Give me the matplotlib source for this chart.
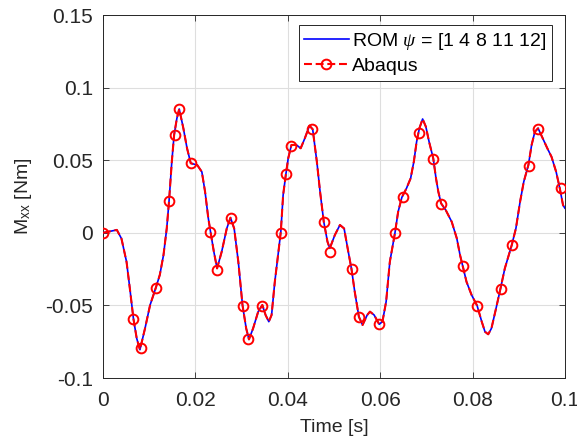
import matplotlib
matplotlib.use("Agg")
import matplotlib.pyplot as plt
from matplotlib.lines import Line2D

plt.rcParams["font.family"] = ["Liberation Sans", "DejaVu Sans"]
plt.rcParams["mathtext.fontset"] = "custom"
plt.rcParams["mathtext.it"] = "Liberation Serif:italic"
plt.rcParams["mathtext.rm"] = "Liberation Sans"

# ROM / Abaqus response (dense trace)
t_rom = [0.0, 0.0030, 0.0040, 0.0051, 0.0058, 0.0066, 0.0073, 0.0080, 0.0091,
         0.0102, 0.0114, 0.0123, 0.0131, 0.0138, 0.0143, 0.0149, 0.0154, 0.0160,
         0.0165, 0.0174, 0.0182, 0.0190, 0.0204, 0.0214, 0.0221, 0.0228, 0.0233,
         0.0240, 0.0247, 0.0257, 0.0268, 0.0276, 0.0284, 0.0293, 0.0302, 0.0310,
         0.0316, 0.0325, 0.0336, 0.0345, 0.0352, 0.0359, 0.0365, 0.0372, 0.0379,
         0.0385, 0.0390, 0.0396, 0.0401, 0.0408, 0.0419, 0.0428, 0.0437, 0.0447,
         0.0454, 0.0463, 0.0470, 0.0478, 0.0486, 0.0491, 0.0502, 0.0513, 0.0522,
         0.0531, 0.0538, 0.0545, 0.0554, 0.0562, 0.0572, 0.0578, 0.0587, 0.0598,
         0.0605, 0.0613, 0.0621, 0.0632, 0.0639, 0.0647, 0.0657, 0.0666, 0.0673,
         0.0679, 0.0685, 0.0692, 0.0699, 0.0706, 0.0715, 0.0721, 0.0726, 0.0732,
         0.0742, 0.0755, 0.0766, 0.0773, 0.0780, 0.0787, 0.0798, 0.0810, 0.0820,
         0.0827, 0.0834, 0.0841, 0.0851, 0.0861, 0.0870, 0.0885, 0.0894, 0.0903,
         0.0911, 0.0921, 0.0928, 0.0935, 0.0942, 0.0952, 0.0962, 0.0971, 0.0981,
         0.0989, 0.0996, 0.1000]
m_rom = [0.0, 0.0020, -0.0040, -0.0200, -0.0380, -0.0594, -0.0727, -0.0805, -0.0658,
         -0.0497, -0.0382, -0.0290, -0.0153, 0.0030, 0.0219, 0.0490, 0.0674, 0.0789,
         0.0853, 0.0720, 0.0582, 0.0479, 0.0467, 0.0420, 0.0283, 0.0100, 0.0003,
         -0.0130, -0.0245, -0.0130, 0.0030, 0.0104, 0.0030, -0.0200, -0.0497, -0.0658,
         -0.0734, -0.0658, -0.0543, -0.0497, -0.0566, -0.0612, -0.0566, -0.0337, -0.0153,
         0.0008, 0.0260, 0.0405, 0.0513, 0.0605, 0.0605, 0.0582, 0.0651, 0.0738,
         0.0713, 0.0490, 0.0283, 0.0076, -0.0061, -0.0107, -0.0015, 0.0054, 0.0030,
         -0.0130, -0.0249, -0.0405, -0.0578, -0.0635, -0.0566, -0.0543, -0.0566, -0.0630,
         -0.0612, -0.0474, -0.0200, -0.0003, 0.0145, 0.0244, 0.0306, 0.0375, 0.0490,
         0.0627, 0.0720, 0.0784, 0.0731, 0.0627, 0.0513, 0.0375, 0.0283, 0.0203,
         0.0157, 0.0076, -0.0038, -0.0153, -0.0244, -0.0337, -0.0428, -0.0502, -0.0612,
         -0.0681, -0.0699, -0.0658, -0.0520, -0.0378, -0.0245, -0.0084, 0.0031, 0.0214,
         0.0352, 0.0467, 0.0605, 0.0696, 0.0720, 0.0651, 0.0582, 0.0524, 0.0421,
         0.0306, 0.0191, 0.0170]

# Abaqus marker samples
t_abq = [0.0, 0.00656, 0.00816, 0.01141, 0.01422, 0.01552, 0.01652, 0.01911,
         0.02316, 0.02461, 0.02771, 0.03037, 0.03145, 0.03448, 0.03846, 0.03968,
         0.04069, 0.04524, 0.04790, 0.04913, 0.05383, 0.05541, 0.05981, 0.06320,
         0.06490, 0.06840, 0.07140, 0.07310, 0.07790, 0.08100, 0.08620, 0.08860,
         0.09220, 0.09420, 0.09910]
m_abq = [0.0, -0.0596, -0.0791, -0.0382, 0.0221, 0.0674, 0.0853, 0.0483,
         0.0003, -0.0258, 0.0104, -0.0504, -0.0733, -0.0502, 0.0001, 0.0405,
         0.0600, 0.0713, 0.0076, -0.0134, -0.0251, -0.0582, -0.0626, -0.0003,
         0.0244, 0.0685, 0.0510, 0.0196, -0.0229, -0.0504, -0.0385, -0.0082,
         0.0462, 0.0713, 0.0306]

x_ticks = [0, 0.02, 0.04, 0.06, 0.08, 0.1]
x_labels = ["0", "0.02", "0.04", "0.06", "0.08", "0.1"]
y_ticks = [-0.1, -0.05, 0, 0.05, 0.1, 0.15]
y_labels = ["-0.1", "-0.05", "0", "0.05", "0.1", "0.15"]

DASH = (0, (3.8, 1.8))

fig = plt.figure(figsize=(5.77, 4.43), dpi=100)
ax = fig.add_axes([0.1785, 0.1467, 0.8005, 0.8194])

ax.plot(t_rom, m_rom, color="#0000ff", lw=1.2, zorder=3)
ax.plot(t_rom, m_rom, color="#ff0000", lw=1.5, ls=DASH, zorder=4)
ax.plot(t_abq, m_abq, ls="none", marker="o", ms=7, mfc="none", mec="#ff0000",
        mew=1.4, zorder=5)

ax.set_xlim(0, 0.1)
ax.set_ylim(-0.1, 0.15)
ax.set_xticks(x_ticks)
ax.set_xticklabels(x_labels)
ax.set_yticks(y_ticks)
ax.set_yticklabels(y_labels)
ax.tick_params(direction="in", top=True, right=True, labelsize=15,
               colors="#262626", length=4, width=0.6)
ax.tick_params(axis="x", pad=9)
ax.tick_params(axis="y", pad=7)
ax.grid(True, color="#dedede", lw=0.8)
ax.set_axisbelow(True)
for s in ax.spines.values():
    s.set_color("#262626")
    s.set_linewidth(0.7)

ax.set_xlabel("Time [s]", fontsize=14, color="#262626", labelpad=7)
ax.set_ylabel(r"M$_{\mathregular{xx}}$ [Nm]", fontsize=14, color="#262626", labelpad=8)

handles = [
    Line2D([], [], color="#0000ff", lw=1.2),
    Line2D([], [], color="#ff0000", lw=1.5, ls=DASH, marker="o", ms=7,
           mfc="none", mec="#ff0000", mew=1.4),
]
labels = [r"ROM $\psi$ = [1 4 8 11 12]", "Abaqus"]
leg = ax.legend(handles, labels, loc="upper right", bbox_to_anchor=(0.972, 0.9725),
                fontsize=14, frameon=True, fancybox=False, edgecolor="#262626",
                framealpha=1, borderpad=0.3, handlelength=2.27, handletextpad=0.17,
                labelspacing=0.28, borderaxespad=0)
leg.get_frame().set_linewidth(0.7)

fig.savefig("out.png", dpi=100)
